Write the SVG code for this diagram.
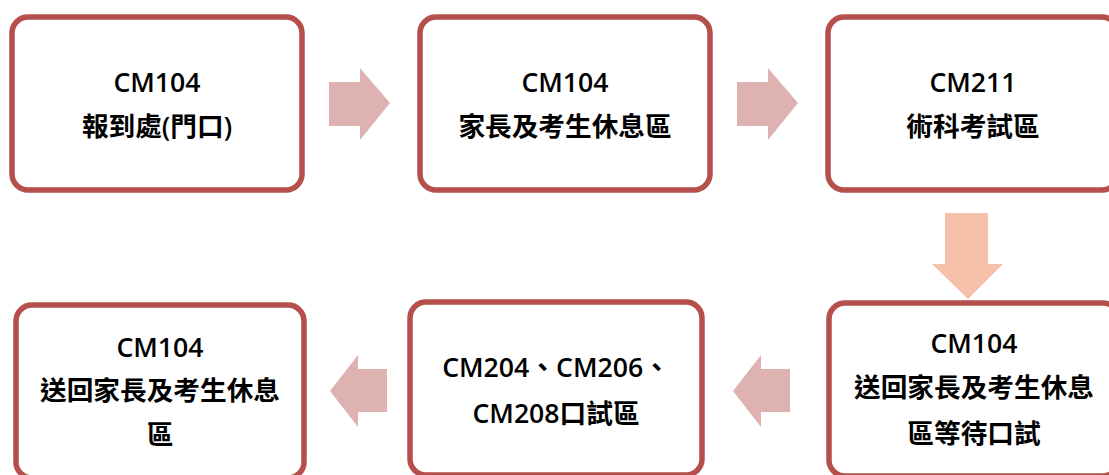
<svg xmlns="http://www.w3.org/2000/svg" width="1109" height="475" viewBox="0 0 1109 475">
<style>
.box{fill:#ffffff;stroke:#b44f4b;stroke-width:5.5}
.t{font-family:"Open Sans","Noto Sans CJK TC",sans-serif;font-weight:600;font-size:26.67px;fill:#000;text-anchor:middle}
.ar{fill:#ddb2b1}
.ad{fill:#f5c1ab}
</style>
<rect width="1109" height="475" fill="#ffffff"/>
<g id="connectors">
<polygon class="ar" points="329,82 360,82 360,68 390,103 360,140 360,126 329,126"/>
<polygon class="ar" points="737,82 768,82 768,68 798,103 768,140 768,126 737,126"/>
<polygon class="ad" points="945,213 988,213 988,264 1003,264 968,299 932,264 945,264"/>
<polygon class="ar" points="387,369 358,369 358,355 330,391 358,427 358,412 387,412"/>
<polygon class="ar" points="790,369 761,369 761,355 733,391 761,427 761,412 790,412"/>
</g>
<g id="node1">
<rect class="box" x="12" y="17" width="290" height="173" rx="16"/>
<text class="t" x="157" y="92">CM104</text>
<text class="t" x="157" y="136">報到處(門口)</text>
</g>
<g id="node2">
<rect class="box" x="420" y="17" width="290" height="173" rx="16"/>
<text class="t" x="565" y="92">CM104</text>
<text class="t" x="565" y="136">家長及考生休息區</text>
</g>
<g id="node3">
<rect class="box" x="828" y="17" width="290" height="173" rx="16"/>
<text class="t" x="973" y="92">CM211</text>
<text class="t" x="973" y="136">術科考試區</text>
</g>
<g id="node4">
<rect class="box" x="829" y="303" width="290" height="173" rx="16"/>
<text class="t" x="974" y="353">CM104</text>
<text class="t" x="974" y="397">送回家長及考生休息</text>
<text class="t" x="974" y="443">區等待口試</text>
</g>
<g id="node5">
<rect class="box" x="410" y="302" width="292" height="173" rx="16"/>
<text class="t" x="556" y="377">CM204、CM206、</text>
<text class="t" x="556" y="423">CM208口試區</text>
</g>
<g id="node6">
<rect class="box" x="16" y="305" width="288" height="173" rx="16"/>
<text class="t" x="160" y="357">CM104</text>
<text class="t" x="160" y="400">送回家長及考生休息</text>
<text class="t" x="160" y="444">區</text>
</g>
</svg>
